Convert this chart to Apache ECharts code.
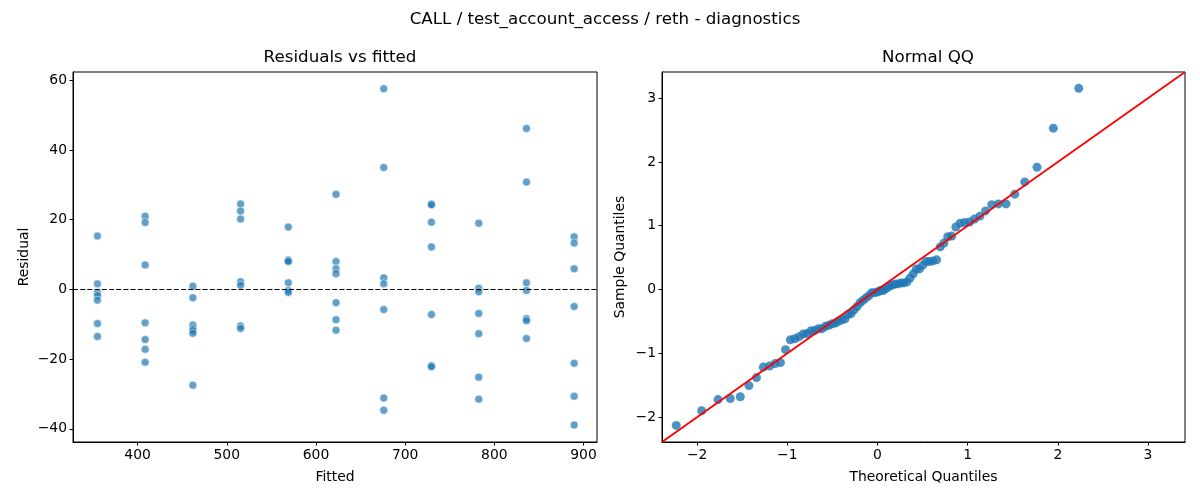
<!DOCTYPE html>
<html>
<head>
<meta charset="utf-8">
<script src="https://cdn.jsdelivr.net/npm/echarts@6/dist/echarts.min.js"></script>
<style>
  html, body { margin: 0; padding: 0; background: #fff; }
  #main { width: 1200px; height: 500px; }
</style>
</head>
<body>
<div id="main"></div>
<script>
// fitted levels and the residuals seen at each of them
var fitted = [355, 408.5, 462, 515.5, 569, 622.5, 676, 729.5, 782.5, 836, 889.5];
var residuals = [
    [15.3, 1.6, -0.9, -1.8, -3.1, -9.8, -13.5],
    [21.0, 19.2, 7.0, -9.6, -14.4, -17.2, -20.9],
    [0.9, -2.4, -10.2, -11.2, -11.8, -12.6, -27.5],
    [24.5, 22.5, 20.2, 2.2, 1.2, -10.5, -11.2],
    [17.9, 8.5, 8.2, 8.0, 1.9, -0.3, -0.9],
    [27.3, 8.0, 5.9, 4.5, -3.8, -8.7, -11.7],
    [57.6, 35.0, 3.3, 1.6, -5.8, -31.2, -34.7],
    [24.5, 24.3, 19.3, 12.2, -7.2, -21.9, -22.2],
    [19.0, 0.3, -0.7, -6.9, -12.7, -25.2, -31.5],
    [46.2, 30.8, 1.9, -0.3, -8.4, -9.0, -14.1],
    [15.1, 13.3, 5.9, -4.9, -21.2, -30.7, -38.9]
];

// normal QQ points
var qqTheoretical = [
    -2.232, -1.950, -1.769, -1.633, -1.522, -1.426, -1.342, -1.267, -1.198, -1.135,
    -1.076, -1.020, -0.967, -0.917, -0.869, -0.823, -0.779, -0.736, -0.695, -0.655,
    -0.615, -0.577, -0.539, -0.502, -0.466, -0.431, -0.396, -0.361, -0.327, -0.293,
    -0.260, -0.227, -0.194, -0.161, -0.129, -0.097, -0.064, -0.032, 0.000, 0.032,
    0.064, 0.097, 0.129, 0.161, 0.194, 0.227, 0.260, 0.293, 0.327, 0.361,
    0.396, 0.431, 0.466, 0.502, 0.539, 0.577, 0.615, 0.655, 0.695, 0.736,
    0.779, 0.823, 0.869, 0.917, 0.967, 1.020, 1.076, 1.135, 1.198, 1.267,
    1.342, 1.426, 1.522, 1.633, 1.769, 1.950, 2.232
];
var qqSample = [
    -2.130, -1.900, -1.725, -1.709, -1.681, -1.506, -1.380, -1.216, -1.199, -1.161,
    -1.145, -0.942, -0.789, -0.772, -0.739, -0.696, -0.690, -0.646, -0.641, -0.613,
    -0.613, -0.575, -0.559, -0.537, -0.526, -0.493, -0.476, -0.460, -0.394, -0.378,
    -0.318, -0.268, -0.208, -0.170, -0.131, -0.099, -0.049, -0.049, -0.038, -0.016,
    -0.016, 0.016, 0.049, 0.066, 0.088, 0.088, 0.104, 0.104, 0.120, 0.181,
    0.246, 0.323, 0.323, 0.383, 0.438, 0.438, 0.449, 0.466, 0.668, 0.728,
    0.827, 0.838, 0.980, 1.041, 1.051, 1.057, 1.106, 1.150, 1.232, 1.331,
    1.342, 1.342, 1.495, 1.687, 1.917, 2.530, 3.154
];

// tick labels
var fittedTicks = [400, 500, 600, 700, 800, 900];
var residTicks = [-40, -20, 0, 20, 40, 60];
var qqTicks = [-2, -1, 0, 1, 2, 3];
var qqMin = -2.39, qqMax = 3.41;

var chart = echarts.init(document.getElementById('main'));
var font = 'DejaVu Sans';

var residData = [];
for (var i in fitted)
    for (var j in residuals[i])
        residData.push([fitted[i], residuals[i][j]]);

var qqData = [];
for (var k in qqTheoretical)
    qqData.push([qqTheoretical[k], qqSample[k]]);

function axis(gridIndex, min, max, ticks, name, gap){
    return {
        type: 'value',
        gridIndex: gridIndex,
        min: min,
        max: max,
        name: name,
        nameLocation: 'middle',
        nameGap: gap,
        nameTextStyle: { color: '#000', fontFamily: font, fontSize: 13.9 },
        axisLine: { show: true, onZero: false, lineStyle: { color: '#000', width: 1 } },
        axisTick: { show: true, length: 3.5, customValues: ticks, lineStyle: { color: '#000', width: 1 } },
        axisLabel: {
            customValues: ticks, color: '#000', fontFamily: font, fontSize: 13.9, margin: 6,
            formatter: function(v){ return String(v).replace('-', '\u2212'); }
        },
        splitLine: { show: false }
    };
}

var titleStyle = { fontFamily: font, fontSize: 16.7, fontWeight: 'normal', color: '#000' };

chart.setOption({
    backgroundColor: '#fff',
    animation: false,
    title: [
        { text: 'CALL / test_account_access / reth - diagnostics', left: 600, top: 6, textAlign: 'center', textStyle: titleStyle },
        { text: 'Residuals vs fitted', left: 335, top: 44, textAlign: 'center', textStyle: titleStyle },
        { text: 'Normal QQ', left: 923, top: 44, textAlign: 'center', textStyle: titleStyle }
    ],
    grid: [
        { left: 73, top: 72, width: 524, height: 370, show: true, borderColor: '#000', borderWidth: 1, backgroundColor: 'transparent' },
        { left: 662, top: 72, width: 523, height: 370, show: true, borderColor: '#000', borderWidth: 1, backgroundColor: 'transparent' }
    ],
    xAxis: [
        axis(0, 327.6, 915.1, fittedTicks, 'Fitted', 28),
        axis(1, qqMin, qqMax, qqTicks, 'Theoretical Quantiles', 28)
    ],
    yAxis: [
        axis(0, -43.8, 62.4, residTicks, 'Residual', 42),
        axis(1, qqMin, qqMax, qqTicks, 'Sample Quantiles', 35)
    ],
    series: [
        {
            type: 'scatter',
            xAxisIndex: 0,
            yAxisIndex: 0,
            symbolSize: 8,
            itemStyle: { color: '#1f77b4', opacity: 0.7, borderColor: '#fff', borderWidth: 0.75 },
            data: residData,
            markLine: {
                silent: true,
                symbol: 'none',
                label: { show: false },
                lineStyle: { color: '#000', type: [5, 2.2], width: 1 },
                data: [{ yAxis: 0 }]
            }
        },
        {
            type: 'scatter',
            xAxisIndex: 1,
            yAxisIndex: 1,
            symbolSize: 9,
            itemStyle: { color: '#1f77b4' },
            data: qqData
        },
        {
            type: 'line',
            xAxisIndex: 1,
            yAxisIndex: 1,
            symbol: 'none',
            lineStyle: { color: '#ff0000', width: 1.8 },
            data: [[qqMin, qqMin], [qqMax, qqMax]],
            z: 3
        }
    ]
});
</script>
</body>
</html>
